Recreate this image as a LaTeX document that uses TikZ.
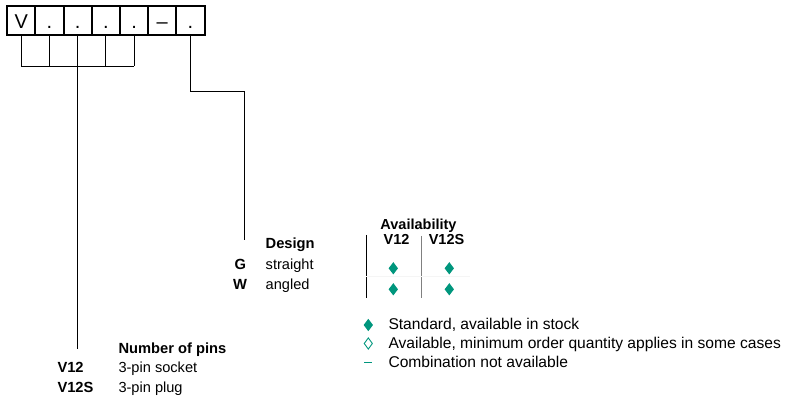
\documentclass[tikz,border=0pt]{standalone}
\usepackage{fontspec}
\setmainfont{Liberation Sans}
\usetikzlibrary{shapes.geometric}
\definecolor{teal1}{RGB}{0,150,125}
\tikzset{
  codebox/.style={draw, line width=2pt, minimum width=28.2pt, minimum height=28.5pt,
    inner sep=0pt, text height=16.2pt, text depth=0pt, font=\fontsize{20}{22}\selectfont},
  conn/.style={line width=0.9pt},
  txt/.style={anchor=base west, inner sep=0pt, font=\fontsize{14.6}{17}\selectfont},
  btxt/.style={anchor=base west, inner sep=0pt, font=\fontsize{14.7}{17}\selectfont\bfseries},
  bctr/.style={anchor=base, inner sep=0pt, font=\fontsize{14.5}{17}\selectfont\bfseries},
  ltxt/.style={anchor=base west, inner sep=0pt, font=\fontsize{15.6}{18}\selectfont},
  fdia/.style={diamond, fill=teal1, minimum width=9.5pt, minimum height=12.5pt, inner sep=0pt},
  hdia/.style={diamond, draw=teal1, line width=0.9pt, minimum width=8.5pt, minimum height=11.5pt, inner sep=0pt},
}
\begin{document}
\begin{tikzpicture}[x=1pt,y=-1pt]
\useasboundingbox (0,0) rectangle (790,406);
% code boxes
\node[codebox] (b1) at (21.3,20.4) {V};
\node[codebox] (b2) at (49.5,20.4) {.};
\node[codebox] (b3) at (77.7,20.4) {.};
\node[codebox] (b4) at (105.9,20.4) {.};
\node[codebox] (b5) at (134.1,20.4) {.};
\node[codebox] (b6) at (162.3,20.4) {–};
\node[codebox] (b7) at (190.5,20.4) {.};
% grouping lines
\coordinate (hy) at (0,66);
\foreach \i in {1,...,5} {\draw[conn] (b\i.south) -- (b\i.south |- hy);}
\draw[conn] (b1.south |- hy) -- (b5.south |- hy);
\coordinate (pinsend) at (77.7,349);
\draw[conn] (b3.south |- hy) -- (pinsend);
\coordinate (dk1) at (190.5,91);
\coordinate (dk2) at (244.3,91);
\coordinate (designend) at (244.3,240);
\draw[conn] (b7.south) -- (dk1) -- (dk2) -- (designend);
% Number of pins
\node[btxt] (pinshead) at (118.3,353) {Number of pins};
\node[btxt] (v12) at (57.3,372.5) {V12};
\node[txt] (v12t) at (118.3,372.5) {3-pin socket};
\node[btxt] (v12s) at (57.3,392) {V12S};
\node[txt] (v12st) at (118.3,392) {3-pin plug};
% Design
\node[btxt] (deshead) at (265.5,248) {Design};
\node[btxt] (g) at (234.5,269.5) {G};
\node[txt] (gt) at (265.5,269.5) {straight};
\node[btxt] (w) at (233,290) {W};
\node[txt] (wt) at (265.5,290) {angled};
% Availability
\node[bctr] (avhead) at (418.5,229.5) {Availability};
\node[bctr] (avc1) at (396.5,245) {V12};
\node[bctr] (avc2) at (446.5,245) {V12S};
\coordinate (l1t) at (366,235); \coordinate (l1b) at (366,298);
\coordinate (l2t) at (421.5,236); \coordinate (l2b) at (421.5,298);
\draw[line width=0.9pt] (l1t) -- (l1b);
\draw[line width=0.9pt, gray] (l2t) -- (l2b);
\coordinate (hl1) at (366,276.5); \coordinate (hl2) at (470,276.5);
\draw[line width=0.5pt, black!4] (hl1) -- (hl2);
\node[fdia] (d11) at (393.3,268.3) {};
\node[fdia] (d12) at (449.3,268.3) {};
\node[fdia] (d21) at (393.3,289.3) {};
\node[fdia] (d22) at (449.3,289.3) {};
% Legend
\node[fdia] (lg1) at (368.3,325) {};
\node[ltxt] (lg1t) at (388.3,329) {Standard, available in stock};
\node[hdia] (lg2) at (368.3,343.5) {};
\node[ltxt] (lg2t) at (388.3,348) {Available, minimum order quantity applies in some cases};
\coordinate (dash1) at (364.3,362.5); \coordinate (dash2) at (372.3,362.5);
\draw[teal1, line width=1.6pt] (dash1) -- (dash2);
\node[ltxt] (lg3t) at (388.3,367.5) {Combination not available};
\end{tikzpicture}
\end{document}
